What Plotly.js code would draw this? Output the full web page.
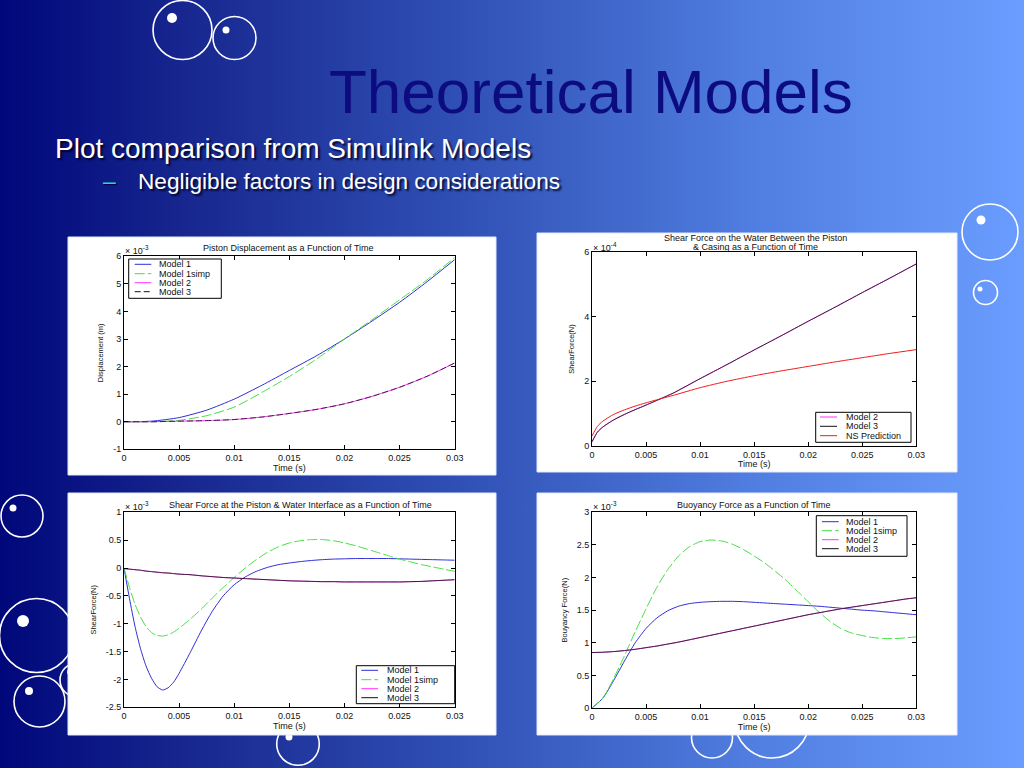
<!DOCTYPE html>
<html><head><meta charset="utf-8">
<script src="https://cdn.plot.ly/plotly-3.0.1.min.js"></script>
<style>
html,body{margin:0;padding:0;width:1024px;height:768px;overflow:hidden;
background:linear-gradient(to right,#00077a 0%,#17278f 18%,#3050b5 45%,#5280e2 75%,#6a9dff 100%);}
#chart{width:1024px;height:768px;}
</style></head><body><div id="chart"></div>
<script>
// ---------------- DATA (values in units of the axis multiplier) ----------------
const xTickVals = [0, 0.005, 0.01, 0.015, 0.02, 0.025, 0.03];
const xTickText = ['0', '0.005', '0.01', '0.015', '0.02', '0.025', '0.03'];

// Panel 1: Piston displacement (x 10^-3 m)
const tDisp = [0, 0.0025, 0.005, 0.0075, 0.01, 0.0125, 0.015, 0.0175, 0.02, 0.0225, 0.025, 0.0275, 0.03];
const dispModel1 = [0, 0.02, 0.15, 0.42, 0.82, 1.32, 1.86, 2.4, 3.0, 3.65, 4.33, 5.08, 5.88];
const dispModel1simp = [0, 0, 0.05, 0.22, 0.53, 1.06, 1.64, 2.28, 3.0, 3.7, 4.42, 5.15, 5.95];
const dispModel2 = [0, 0, 0.02, 0.04, 0.08, 0.17, 0.3, 0.45, 0.65, 0.92, 1.25, 1.65, 2.13];
const dispModel3 = [0, 0, 0.02, 0.04, 0.08, 0.17, 0.3, 0.45, 0.65, 0.92, 1.25, 1.65, 2.13];
const yTickVals1 = [-1, 0, 1, 2, 3, 4, 5, 6];
const yTickText1 = ['-1', '0', '1', '2', '3', '4', '5', '6'];

// Panel 2: Shear force between piston & casing (x 10^-4 N)
const tShear = [0, 0.0005, 0.001, 0.002, 0.003, 0.004, 0.005, 0.0065, 0.0075, 0.01, 0.0125, 0.015, 0.0175, 0.02, 0.0225, 0.025, 0.0275, 0.03];
const shearModel2 = [0.12, 0.42, 0.58, 0.8, 0.97, 1.12, 1.26, 1.48, 1.63, 2.08, 2.52, 2.97, 3.41, 3.86, 4.3, 4.75, 5.19, 5.64];
const shearModel3 = [0.12, 0.42, 0.58, 0.8, 0.97, 1.12, 1.26, 1.48, 1.63, 2.08, 2.52, 2.97, 3.41, 3.86, 4.3, 4.75, 5.19, 5.64];
const shearNS = [0.3, 0.6, 0.76, 0.97, 1.11, 1.23, 1.33, 1.47, 1.56, 1.8, 2.0, 2.17, 2.32, 2.46, 2.6, 2.73, 2.86, 2.98];
const yTickVals2 = [0, 2, 4, 6];
const yTickText2 = ['0', '2', '4', '6'];

// Panel 3: Shear force at piston & water interface (x 10^-3 N)
const tPiston = [0, 0.0005, 0.001, 0.0015, 0.002, 0.0025, 0.003, 0.0035, 0.004, 0.0045, 0.005,
  0.006, 0.007, 0.008, 0.009, 0.01, 0.011, 0.012, 0.013, 0.014, 0.015, 0.016, 0.017, 0.018, 0.019, 0.02,
  0.021, 0.022, 0.023, 0.024, 0.025, 0.026, 0.027, 0.028, 0.029, 0.03];
const pistonModel1 = [0, -0.55, -1.05, -1.45, -1.76, -1.98, -2.13, -2.19, -2.15, -2.05, -1.89,
  -1.52, -1.13, -0.78, -0.5, -0.3, -0.16, -0.06, 0.01, 0.06, 0.09, 0.115, 0.135, 0.15, 0.16, 0.165,
  0.17, 0.17, 0.17, 0.17, 0.165, 0.16, 0.155, 0.15, 0.145, 0.14];
const pistonModel1simp = [0, -0.35, -0.65, -0.88, -1.05, -1.16, -1.21, -1.22, -1.2, -1.15, -1.08,
  -0.92, -0.74, -0.54, -0.35, -0.17, 0.0, 0.15, 0.28, 0.38, 0.45, 0.49, 0.51, 0.51, 0.49, 0.45,
  0.4, 0.34, 0.28, 0.22, 0.16, 0.11, 0.06, 0.02, -0.02, -0.06];
const pistonModel2 = [-0.01, -0.02, -0.03, -0.04, -0.055, -0.065, -0.075, -0.085, -0.09, -0.1, -0.11,
  -0.12, -0.14, -0.155, -0.17, -0.18, -0.19, -0.2, -0.21, -0.22, -0.23, -0.235, -0.24, -0.245, -0.245, -0.25,
  -0.25, -0.25, -0.25, -0.25, -0.25, -0.245, -0.24, -0.23, -0.22, -0.21];
const pistonModel3 = [-0.01, -0.02, -0.03, -0.04, -0.055, -0.065, -0.075, -0.085, -0.09, -0.1, -0.11,
  -0.12, -0.14, -0.155, -0.17, -0.18, -0.19, -0.2, -0.21, -0.22, -0.23, -0.235, -0.24, -0.245, -0.245, -0.25,
  -0.25, -0.25, -0.25, -0.25, -0.25, -0.245, -0.24, -0.23, -0.22, -0.21];
const yTickVals3 = [-2.5, -2, -1.5, -1, -0.5, 0, 0.5, 1];
const yTickText3 = ['-2.5', '-2', '-1.5', '-1', '-0.5', '0', '0.5', '1'];

// Panel 4: Buoyancy force (x 10^-3 N)
const tBuoy = [0, 0.001, 0.002, 0.003, 0.004, 0.005, 0.006, 0.007, 0.008, 0.009, 0.01,
  0.011, 0.012, 0.013, 0.014, 0.015, 0.016, 0.017, 0.018, 0.019, 0.02,
  0.021, 0.022, 0.023, 0.024, 0.025, 0.026, 0.027, 0.028, 0.029, 0.03];
const buoyModel1 = [0, 0.15, 0.42, 0.72, 1.0, 1.22, 1.38, 1.49, 1.56, 1.6, 1.62,
  1.63, 1.635, 1.635, 1.63, 1.62, 1.61, 1.6, 1.59, 1.58, 1.57,
  1.56, 1.545, 1.53, 1.515, 1.5, 1.49, 1.475, 1.46, 1.445, 1.43];
const buoyModel1simp = [0, 0.15, 0.45, 0.8, 1.17, 1.52, 1.85, 2.12, 2.33, 2.47, 2.55,
  2.575, 2.56, 2.51, 2.43, 2.33, 2.22, 2.09, 1.95, 1.79, 1.63,
  1.47, 1.33, 1.22, 1.15, 1.11, 1.08, 1.065, 1.065, 1.075, 1.09];
const buoyModel2 = [0.85, 0.855, 0.865, 0.88, 0.9, 0.925, 0.95, 0.98, 1.01, 1.045, 1.08,
  1.115, 1.15, 1.185, 1.22, 1.255, 1.29, 1.325, 1.36, 1.395, 1.43,
  1.46, 1.49, 1.52, 1.545, 1.57, 1.595, 1.62, 1.645, 1.67, 1.69];
const buoyModel3 = [0.85, 0.855, 0.865, 0.88, 0.9, 0.925, 0.95, 0.98, 1.01, 1.045, 1.08,
  1.115, 1.15, 1.185, 1.22, 1.255, 1.29, 1.325, 1.36, 1.395, 1.43,
  1.46, 1.49, 1.52, 1.545, 1.57, 1.595, 1.62, 1.645, 1.67, 1.69];
const yTickVals4 = [0, 0.5, 1, 1.5, 2, 2.5, 3];
const yTickText4 = ['0', '0.5', '1', '1.5', '2', '2.5', '3'];

// ---------------- STYLES ----------------
const FONT = 'Liberation Sans, Arial, sans-serif';
const sM1 = {color: '#2e2ed8', dash: 'solid', width: 1};
const sM1s = {color: '#44dd44', dash: '10px,3px', width: 1};
const sM2 = {color: '#ff33ff', dash: 'solid', width: 1};
const sM3d = {color: '#111111', dash: '6px,3px', width: 0.8};
const sM3 = {color: '#111111', dash: 'solid', width: 0.8};
const sNS = {color: '#ee1c1c', dash: 'solid', width: 1};

const W = 1024, H = 768;
const px = v => v / W;
const py = v => 1 - v / H;

function tr(x, y, name, st, ax) {
  return {x: x, y: y, name: name, type: 'scatter', mode: 'lines', showlegend: false,
    xaxis: 'x' + ax, yaxis: 'y' + ax,
    line: {color: st.color, dash: st.dash, width: st.width, shape: 'spline', smoothing: 0.6},
    hoverinfo: 'skip'};
}

const traces = [
  tr(tDisp, dispModel1, 'Model 1', sM1, ''),
  tr(tDisp, dispModel1simp, 'Model 1simp', sM1s, ''),
  tr(tDisp, dispModel2, 'Model 2', sM2, ''),
  tr(tDisp, dispModel3, 'Model 3', sM3d, ''),
  tr(tShear, shearModel2, 'Model 2', sM2, '2'),
  tr(tShear, shearModel3, 'Model 3', sM3, '2'),
  tr(tShear, shearNS, 'NS Prediction', sNS, '2'),
  tr(tPiston, pistonModel1, 'Model 1', sM1, '3'),
  tr(tPiston, pistonModel1simp, 'Model 1simp', sM1s, '3'),
  tr(tPiston, pistonModel2, 'Model 2', sM2, '3'),
  tr(tPiston, pistonModel3, 'Model 3', sM3, '3'),
  tr(tBuoy, buoyModel1, 'Model 1', sM1, '4'),
  tr(tBuoy, buoyModel1simp, 'Model 1simp', sM1s, '4'),
  tr(tBuoy, buoyModel2, 'Model 2', sM2, '4'),
  tr(tBuoy, buoyModel3, 'Model 3', sM3, '4')
];

function xAx(d, anchor) {
  return {domain: d, anchor: anchor, range: [0, 0.03], tickvals: xTickVals, ticktext: xTickText,
    ticks: 'inside', ticklen: 4, tickcolor: '#000', showline: true, linecolor: '#000', linewidth: 1,
    mirror: 'ticks', showgrid: false, zeroline: false, automargin: false, fixedrange: true,
    tickfont: {family: FONT, size: 9, color: '#111'},
    title: {text: 'Time (s)', standoff: 1, font: {family: FONT, size: 9, color: '#111'}}};
}
function yAx(d, anchor, r, tv, tt, title) {
  return {domain: d, anchor: anchor, range: r, tickvals: tv, ticktext: tt,
    ticks: 'inside', ticklen: 4, tickcolor: '#000', showline: true, linecolor: '#000', linewidth: 1,
    mirror: 'ticks', showgrid: false, zeroline: false, automargin: false, fixedrange: true,
    tickfont: {family: FONT, size: 9, color: '#111'},
    title: {text: title, standoff: 8, font: {family: FONT, size: 7.5, color: '#111'}}};
}

// plot-area rectangles (page pixels)
const P1 = [124, 256.3, 454.7, 449.3];
const P2 = [592, 252.3, 916.3, 445.7];
const P3 = [124, 512.3, 454.7, 707.3];
const P4 = [592, 512.3, 916.3, 708];
const dx = p => [px(p[0]), px(p[2])];
const dy = p => [py(p[3]), py(p[1])];

const shapes = [];
// decorative bubbles
const bubbles = [
  [182.5, 30, 29.5, 172, 18, 5], [234.5, 38, 21.5, 226, 30, 3.5],
  [990, 232, 28, 981, 220, 4.5], [985.5, 292.5, 12, 980, 289, 2.5],
  [22, 516, 21, 13, 508, 3.5], [36.5, 635.5, 37, 23, 621, 6],
  [39.5, 701.5, 25.5, 29, 691, 4], [77, 680, 17, 70, 672, 3],
  [298, 744, 21.3, 289, 737, 3.5], [712, 737.5, 20.5, 704, 729, 3.5],
  [772, 721, 37, 760, 706, 5]
];
bubbles.forEach(b => {
  shapes.push({type: 'circle', xref: 'paper', yref: 'paper', layer: 'below',
    x0: px(b[0] - b[2]), x1: px(b[0] + b[2]), y0: py(b[1] + b[2]), y1: py(b[1] - b[2]),
    line: {color: '#ffffff', width: 1.6}, fillcolor: 'rgba(0,0,0,0)'});
  shapes.push({type: 'circle', xref: 'paper', yref: 'paper', layer: 'below',
    x0: px(b[3] - b[5]), x1: px(b[3] + b[5]), y0: py(b[4] + b[5]), y1: py(b[4] - b[5]),
    line: {width: 0}, fillcolor: '#ffffff'});
});
// white figure panels
[[68, 237, 496, 475], [537, 233, 957, 472], [68, 493, 496, 735], [537, 493, 957, 735]].forEach(r => {
  shapes.push({type: 'rect', xref: 'paper', yref: 'paper', layer: 'below',
    x0: px(r[0]), x1: px(r[2]), y0: py(r[3]), y1: py(r[1]),
    line: {color: '#dfe8ff', width: 1}, fillcolor: '#ffffff'});
});

const annotations = [];
function ann(text, x, y, opts) {
  annotations.push(Object.assign({text: text, xref: 'paper', yref: 'paper', x: px(x), y: py(y),
    showarrow: false, xanchor: 'center', yanchor: 'middle',
    font: {family: FONT, size: 9, color: '#111'}}, opts || {}));
}

// manual MATLAB-style legends
function legend(names, styles, box, sx, tx, ys) {
  shapes.push({type: 'rect', xref: 'paper', yref: 'paper', layer: 'above',
    x0: px(box[0]), x1: px(box[2]), y0: py(box[3]), y1: py(box[1]),
    line: {color: '#000', width: 1}, fillcolor: '#ffffff'});
  names.forEach((n, i) => {
    shapes.push({type: 'line', xref: 'paper', yref: 'paper', layer: 'above',
      x0: px(sx[0]), x1: px(sx[1]), y0: py(ys[i]), y1: py(ys[i]),
      line: {color: styles[i].color, width: 1, dash: styles[i].dash}});
    ann(n, tx, ys[i], {xanchor: 'left'});
  });
}
legend(['Model 1', 'Model 1simp', 'Model 2', 'Model 3'], [sM1, sM1s, sM2, sM3d],
  [128.7, 259, 221.3, 298.3], [134.7, 151.3], 157.3, [264.3, 273.7, 282.7, 291.7]);
legend(['Model 2', 'Model 3', 'NS Prediction'], [sM2, sM3, sNS],
  [815.7, 412.3, 911, 442.3], [820, 837], 843.7, [417, 426.3, 435.7]);
legend(['Model 1', 'Model 1simp', 'Model 2', 'Model 3'], [sM1, sM1s, sM2, sM3],
  [356.3, 665.7, 454.7, 703.7], [361.3, 378], 385.3, [670.3, 679.7, 688.7, 697.7]);
legend(['Model 1', 'Model 1simp', 'Model 2', 'Model 3'], [sM1, sM1s, sM2, sM3],
  [816.3, 515.7, 907, 556.3], [822, 838.7], 844.3, [521.7, 530.7, 539.7, 548.7]);

// subplot titles and multipliers
ann('Piston Displacement as a Function of Time', 288, 247.7);
ann('Shear Force on the Water Between the Piston', 755, 238);
ann('& Casing as a Function of Time', 755, 246.5);
ann('Shear Force at the Piston & Water Interface as a Function of Time', 300.8, 504.7);
ann('Buoyancy Force as a Function of Time', 753.7, 505);
ann('× 10<sup>-3</sup>', 123, 250, {xanchor: 'left'});
ann('× 10<sup>-4</sup>', 591, 246.5, {xanchor: 'left'});
ann('× 10<sup>-3</sup>', 123, 506, {xanchor: 'left'});
ann('× 10<sup>-3</sup>', 591, 506, {xanchor: 'left'});

// slide text
ann('Theoretical Models', 591, 92, {font: {family: FONT, size: 62, color: '#0c0c80'}});
ann('Plot comparison from Simulink Models', 53, 148, {xanchor: 'left',
  font: {family: FONT, size: 28, color: '#ffffff', shadow: '2px 2px 2px rgba(0,0,30,0.9)'}});
ann('–', 101, 181, {xanchor: 'left',
  font: {family: FONT, size: 23, color: '#33ccee', shadow: '1px 1px 1px rgba(0,0,30,0.8)'}});
ann('Negligible factors in design considerations', 136, 182, {xanchor: 'left',
  font: {family: FONT, size: 22.6, color: '#ffffff', shadow: '2px 2px 2px rgba(0,0,30,0.9)'}});

const layout = {
  width: W, height: H, margin: {l: 0, r: 0, t: 0, b: 0},
  paper_bgcolor: 'rgba(0,0,0,0)', plot_bgcolor: '#ffffff', showlegend: false,
  xaxis: xAx(dx(P1), 'y'), yaxis: yAx(dy(P1), 'x', [-1, 6], yTickVals1, yTickText1, 'Displacement (m)'),
  xaxis2: xAx(dx(P2), 'y2'), yaxis2: yAx(dy(P2), 'x2', [0, 6], yTickVals2, yTickText2, 'ShearForce(N)'),
  xaxis3: xAx(dx(P3), 'y3'), yaxis3: yAx(dy(P3), 'x3', [-2.5, 1], yTickVals3, yTickText3, 'ShearForce(N)'),
  xaxis4: xAx(dx(P4), 'y4'), yaxis4: yAx(dy(P4), 'x4', [0, 3], yTickVals4, yTickText4, 'Bouyancy Force(N)'),
  shapes: shapes, annotations: annotations
};

Plotly.newPlot('chart', traces, layout, {staticPlot: true, displayModeBar: false});
</script></body></html>
